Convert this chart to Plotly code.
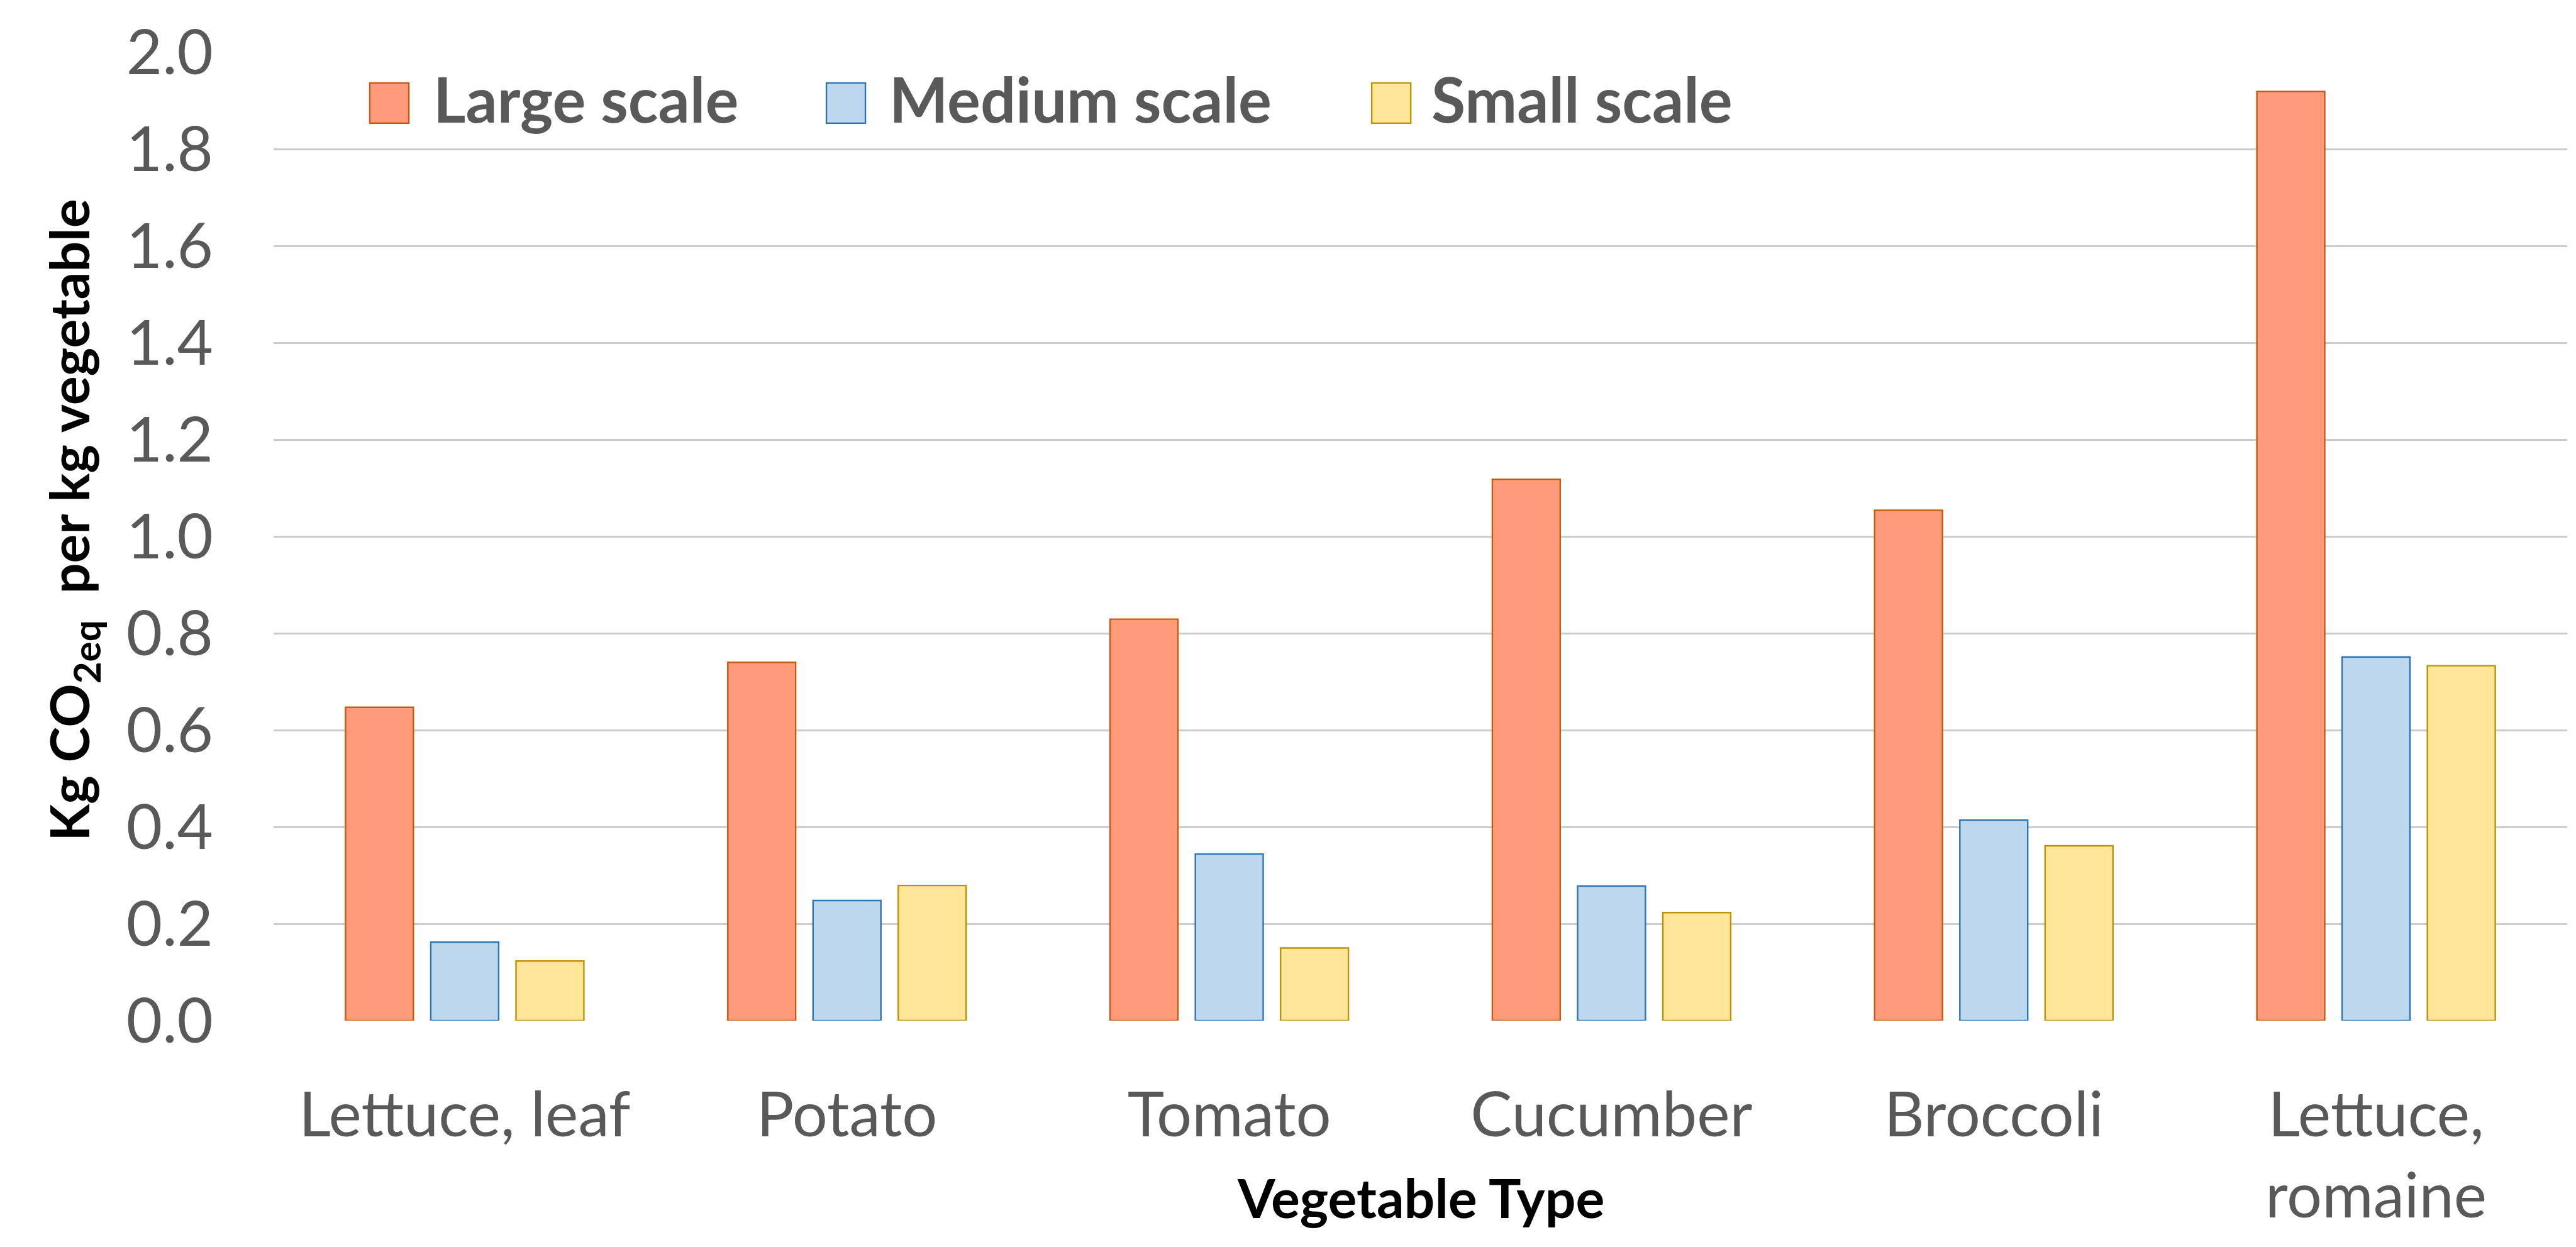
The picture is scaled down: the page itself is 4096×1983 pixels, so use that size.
import plotly.graph_objects as go

# Carbon footprint by vegetable type and farm scale
vegetables = ["Lettuce, leaf", "Potato", "Tomato", "Cucumber", "Broccoli", "Lettuce,<br>romaine"]
large_scale = [0.647, 0.740, 0.829, 1.118, 1.054, 1.919]
medium_scale = [0.162, 0.248, 0.344, 0.278, 0.414, 0.751]
small_scale = [0.123, 0.279, 0.150, 0.223, 0.361, 0.733]

series_names = ["Large scale", "Medium scale", "Small scale"]
y_ticks = [0.0, 0.2, 0.4, 0.6, 0.8, 1.0, 1.2, 1.4, 1.6, 1.8, 2.0]

fills = ["#FF9B7B", "#BDD7EE", "#FFE699"]
edges = ["#C55A11", "#2E75B6", "#BF9000"]

W, H = 4096, 1983
PL, PR, PT, PB = 435.0, 4081.7, 83.1, 1623.5  # plot area in pixels
PW, PH = PR - PL, PB - PT

def px_x(x):
    return (x - PL) / PW

def px_y(y):
    return (PB - y) / PH

TICK_FONT = dict(family="Lato", size=99, color="#595959")

fig = go.Figure()
for name, vals, fc, ec in zip(series_names, [large_scale, medium_scale, small_scale], fills, edges):
    fig.add_trace(go.Bar(
        x=vegetables, y=vals, name=name,
        marker=dict(color=fc, line=dict(color=ec, width=2.4)),
        showlegend=False,
    ))

# Legend drawn as swatches + labels across the top of the plot
legend_items = [(588, 687), (1314, 1412), (2181, 2274)]
annotations = []
shapes = []
for (sx, tx), name, fc, ec in zip(legend_items, series_names, fills, edges):
    shapes.append(dict(type="rect", xref="paper", yref="paper",
                       x0=px_x(sx), x1=px_x(sx + 62), y0=px_y(196), y1=px_y(132),
                       fillcolor=fc, line=dict(color=ec, width=2.4), layer="above"))
    annotations.append(dict(text=name, xref="paper", yref="paper",
                            x=px_x(tx), y=px_y(157), xanchor="left", yanchor="middle",
                            showarrow=False,
                            font=dict(family="Lato", size=99, color="#595959", weight="bold")))

annotations.append(dict(text="Vegetable Type", xref="paper", yref="paper",
                        x=0.5, y=px_y(1904), xanchor="center", yanchor="middle",
                        showarrow=False,
                        font=dict(family="Lato", size=86, color="#000000", weight="bold")))
annotations.append(dict(text="Kg CO<sub>2eq</sub>  per kg vegetable", xref="paper", yref="paper",
                        x=px_x(115), y=px_y(827), xanchor="center", yanchor="middle",
                        textangle=-90, showarrow=False,
                        font=dict(family="Lato", size=86, color="#000000", weight="bold")))

fig.update_layout(
    width=W, height=H, autosize=False,
    margin=dict(l=PL, r=W - PR, t=PT, b=H - PB, pad=0),
    paper_bgcolor="white", plot_bgcolor="white",
    barmode="group", bargap=0.331, bargroupgap=0.204,
    annotations=annotations, shapes=shapes,
    xaxis=dict(showgrid=False, showline=False, zeroline=False, ticks="",
               tickfont=TICK_FONT, ticklabelstandoff=84),
    yaxis=dict(range=[0, 2.0], tickvals=y_ticks,
               ticktext=[f"{v:.1f}" for v in y_ticks],
               showgrid=True, gridcolor="#CCCCCC", gridwidth=3,
               zeroline=False, showline=False, ticks="",
               tickfont=TICK_FONT, ticklabelstandoff=95),
)

fig.write_html("out.html")
